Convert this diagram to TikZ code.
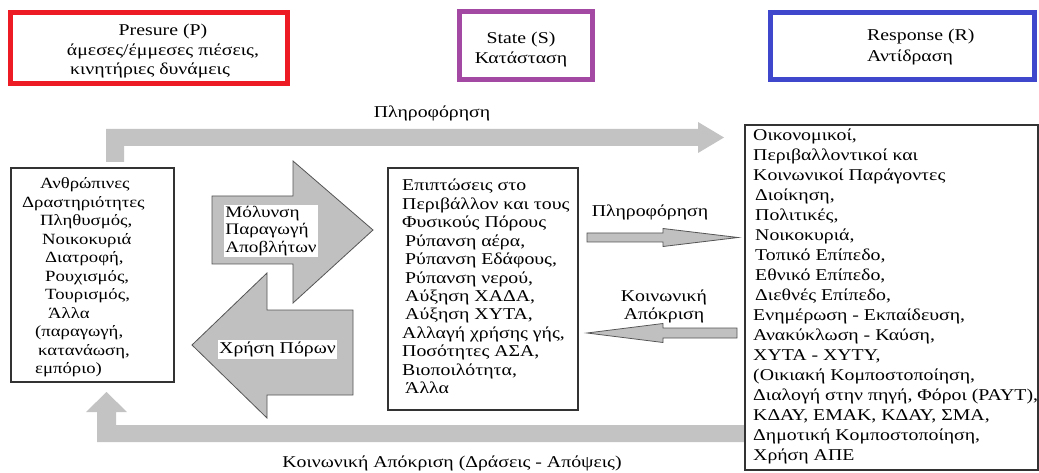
\documentclass[tikz,border=0pt]{standalone}
\usepackage{fontspec}
\setmainfont{Liberation Serif}[FakeStretch=1.2]
\usetikzlibrary{calc}
\definecolor{pred}{HTML}{ED1C24}
\definecolor{ppurple}{HTML}{A349A4}
\definecolor{pblue}{HTML}{3F48CC}
\definecolor{bargrey}{HTML}{C3C3C3}
\definecolor{arrfill}{HTML}{C0C0C0}
\definecolor{arrline}{HTML}{555555}
\definecolor{boxline}{HTML}{333333}
\begin{document}
\begin{tikzpicture}[x=1pt,y=-1pt,
  hdrbox/.style={draw, line width=5pt, inner sep=0pt, fill=white},
  panel/.style={draw=boxline, line width=1.3pt, inner sep=0pt},
  txt/.style={inner sep=0pt, align=left, font=\fontsize{16.5}{18.45}\selectfont},
  lbl/.style={inner sep=1pt, align=center, font=\fontsize{16.5}{19.5}\selectfont},
  whitelbl/.style={fill=white, inner sep=1.5pt, align=left, font=\fontsize{16}{17.5}\selectfont},
  blockarrow/.style={fill=arrfill, draw=arrline, line width=0.8pt, line join=miter},
  bar/.style={fill=bargrey, draw=none}]
\useasboundingbox (0,0) rectangle (1039,473);
\fill[white] (0,0) rectangle (1039,473);

% header boxes
\node[hdrbox, draw=pred, minimum width=277pt, minimum height=71pt] (P) at (149,48) {};
\node[lbl] (Ptxt) at (163,51.5) {Presure (P)\\άμεσες/έμμεσες πιέσεις,\\κινητήριες δυνάμεις\hspace*{26pt}};
\node[hdrbox, draw=ppurple, minimum width=133pt, minimum height=68pt] (S) at (526,45.5) {};
\node[lbl, font=\fontsize{16.5}{20}\selectfont] (Stxt) at (521,50) {State (S)\\Κατάσταση};
\node[hdrbox, draw=pblue, minimum width=264pt, minimum height=67pt] (R) at (902.5,46) {};
\node[lbl, align=left, anchor=west, font=\fontsize{16.5}{21}\selectfont] (Rtxt) at (866,47.5) {Response (R)\\Αντίδραση};

% grey bars
\node[lbl] (info1) at (432,113) {Πληροφόρηση};
\fill[bar] (106,162) -- (106,129) -- (698,129) -- (698,122) -- (724,137.5) -- (698,153) -- (698,146) -- (124,146) -- (124,162) -- cycle;
\fill[bar] (745,425) -- (116,425) -- (116,412) -- (127,412) -- (106.5,392) -- (86,412) -- (97,412) -- (97,442) -- (745,442) -- cycle;
\node[lbl] (soc1) at (452,463) {Κοινωνική Απόκριση (Δράσεις - Απόψεις)};

% panels
\node[panel, minimum width=163pt, minimum height=214pt] (act) at (92.5,275) {};
\node[txt, anchor=west, font=\fontsize{15.6}{18.5}\selectfont] (acttxt) at (22,277.5) {\hspace*{18pt}Ανθρώπινες\\
Δραστηριότητες\\
\hspace*{18pt}Πληθυσμός,\\
\hspace*{20pt}Νοικοκυριά\\
\hspace*{23pt}Διατροφή,\\
\hspace*{23pt}Ρουχισμός,\\
\hspace*{23pt}Τουρισμός,\\
\hspace*{26pt}Άλλα\\
\hspace*{13pt}(παραγωγή,\\
\hspace*{16pt}κατανάωση,\\
\hspace*{13pt}εμπόριο)};

\node[panel, minimum width=190pt, minimum height=242pt] (state) at (483,289) {};
\node[txt, anchor=west] (statetxt) at (402,286.5) {Επιπτώσεις στο\\
Περιβάλλον και τους\\
Φυσικούς Πόρους\\
\hspace*{3pt}Ρύπανση αέρα,\\
\hspace*{3pt}Ρύπανση Εδάφους,\\
\hspace*{3pt}Ρύπανση νερού,\\
\hspace*{3pt}Αύξηση ΧΑΔΑ,\\
\hspace*{3pt}Αύξηση ΧΥΤΑ,\\
Αλλαγή χρήσης γής,\\
Ποσότητες ΑΣΑ,\\
Βιοποιλότητα,\\
\hspace*{3pt}Άλλα};

\node[panel, minimum width=293pt, minimum height=345pt] (resp) at (891.5,297.5) {};
\node[txt, anchor=west, font=\fontsize{16.5}{20.05}\selectfont] (resptxt) at (753,296.5) {Οικονομικοί,\\
Περιβαλλοντικοί και\\
Κοινωνικοί Παράγοντες\\
\hspace*{2pt}Διοίκηση,\\
\hspace*{2pt}Πολιτικές,\\
\hspace*{2pt}Νοικοκυριά,\\
\hspace*{2pt}Τοπικό Επίπεδο,\\
\hspace*{2pt}Εθνικό Επίπεδο,\\
\hspace*{2pt}Διεθνές Επίπεδο,\\
Ενημέρωση - Εκπαίδευση,\\
Ανακύκλωση - Καύση,\\
ΧΥΤΑ - ΧΥΤΥ,\\
(Οικιακή Κομποστοποίηση,\\
Διαλογή στην πηγή, Φόροι (PAYT),\\
ΚΔΑΥ, ΕΜΑΚ, ΚΔΑΥ, ΣΜΑ,\\
Δημοτική Κομποστοποίηση,\\
Χρήση ΑΠΕ};

% big block arrows
\draw[blockarrow] (212,196) -- (293,196) -- (293,161) -- (373,230) -- (293,303) -- (293,264) -- (212,264) -- cycle;
\node[whitelbl] (mol) at (271,231) {Μόλυνση\\Παραγωγή\\Αποβλήτων};
\draw[blockarrow] (353,310) -- (267,310) -- (267,273) -- (192,345) -- (267,418) -- (267,395) -- (353,395) -- cycle;
\node[whitelbl, font=\fontsize{16.5}{17.5}\selectfont] (xr) at (277.5,349.5) {Χρήση Πόρων};

% small arrows
\node[lbl] (info2) at (650,212) {Πληροφόρηση};
\draw[blockarrow] (587,233) -- (663,233) -- (663,228.5) -- (738,237.5) -- (663,246.5) -- (663,242) -- (587,242) -- cycle;
\node[lbl, font=\fontsize{16.5}{18}\selectfont] (soc2) at (664,306) {Κοινωνική\\Απόκριση};
\draw[blockarrow] (737,328) -- (663,328) -- (663,323.5) -- (587,333) -- (663,342.5) -- (663,338) -- (737,338) -- cycle;
\end{tikzpicture}
\end{document}
